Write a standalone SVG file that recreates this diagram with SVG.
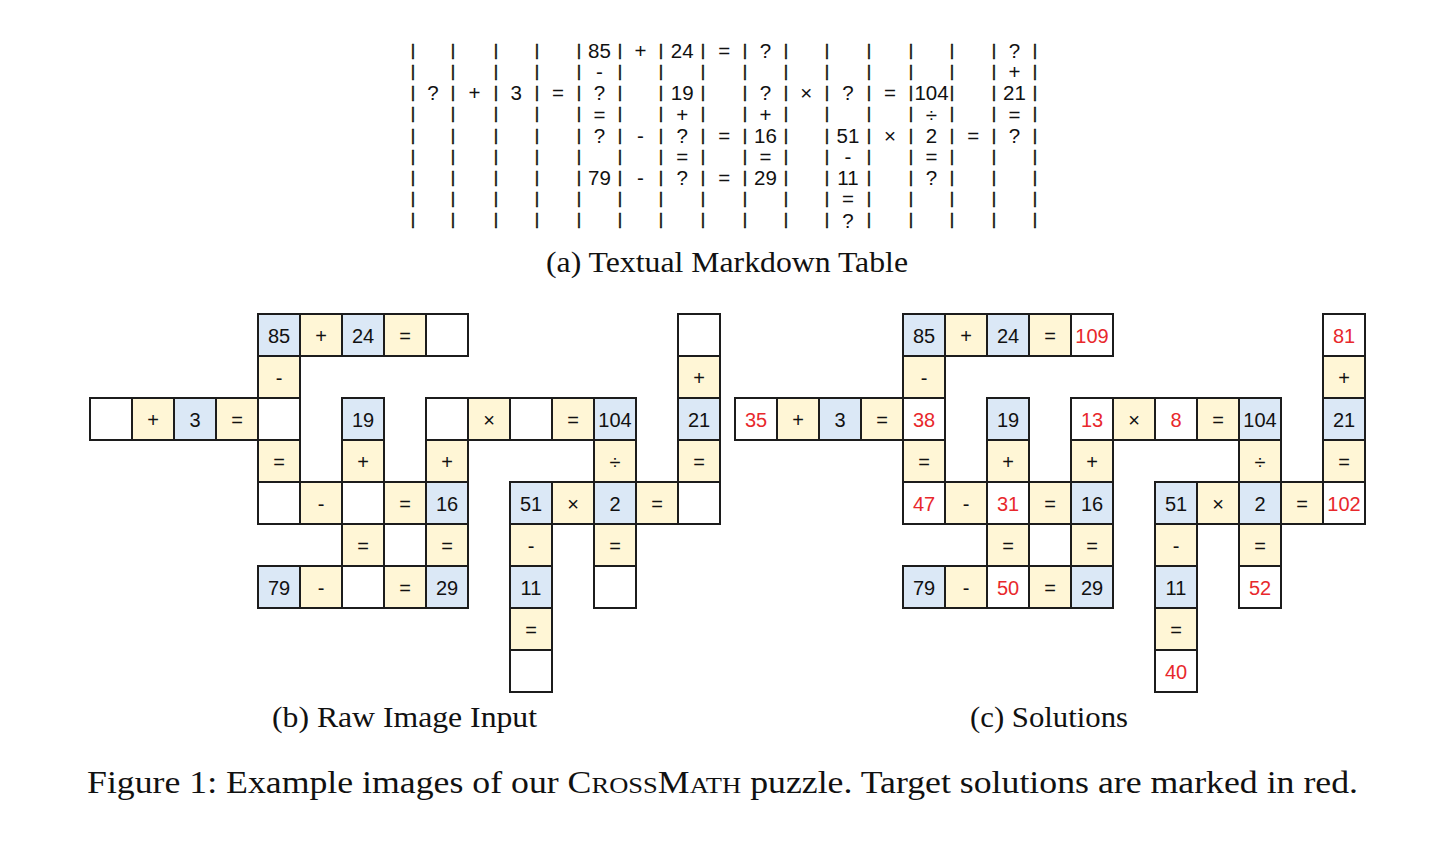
<svg xmlns="http://www.w3.org/2000/svg" width="1456" height="842" viewBox="0 0 1456 842">
<style>
.md{font-family:"Liberation Sans",Arial,sans-serif;font-size:20.5px;fill:#111;text-anchor:middle}
.pp{font-family:"Liberation Sans",Arial,sans-serif;font-size:17px;fill:#111;text-anchor:middle;stroke:#111;stroke-width:0.5}
.cap{font-family:"Liberation Serif","Times New Roman",serif;font-size:29.5px;fill:#111}
.fig{font-family:"Liberation Serif","Times New Roman",serif;font-size:31px;fill:#111}
.sc{font-size:23px}
rect{stroke:#1c1c1c;stroke-width:2}
.b{fill:#dbe8f6}
.y{fill:#fff6d6}
.w{fill:#ffffff}
.t{font-family:"Liberation Sans",Arial,sans-serif;font-size:20px;fill:#111;text-anchor:middle}
.r{fill:#e8282c}
</style>
<rect x="0" y="0" width="1456" height="842" fill="#ffffff" style="stroke:none"/>

<!-- (a) markdown table -->
<g id="markdown" opacity="0.995">
<g id="pipes" class="pp">
<text x="413 453 496 537 579 620 661 703 745 786 827 869 911 952 994 1035" y="55.7">||||||||||||||||</text>
<text x="413 453 496 537 579 620 661 703 745 786 827 869 911 952 994 1035" y="76.9">||||||||||||||||</text>
<text x="413 453 496 537 579 620 661 703 745 786 827 869 911 952 994 1035" y="98.1">||||||||||||||||</text>
<text x="413 453 496 537 579 620 661 703 745 786 827 869 911 952 994 1035" y="119.3">||||||||||||||||</text>
<text x="413 453 496 537 579 620 661 703 745 786 827 869 911 952 994 1035" y="140.5">||||||||||||||||</text>
<text x="413 453 496 537 579 620 661 703 745 786 827 869 911 952 994 1035" y="161.7">||||||||||||||||</text>
<text x="413 453 496 537 579 620 661 703 745 786 827 869 911 952 994 1035" y="182.9">||||||||||||||||</text>
<text x="413 453 496 537 579 620 661 703 745 786 827 869 911 952 994 1035" y="204.1">||||||||||||||||</text>
<text x="413 453 496 537 579 620 661 703 745 786 827 869 911 952 994 1035" y="225.3">||||||||||||||||</text>
</g>
<g id="cells-md" class="md">
<text y="58"><tspan x="599.5">85</tspan><tspan x="640.5">+</tspan><tspan x="682.2">24</tspan><tspan x="724.2">=</tspan><tspan x="765.4">?</tspan><tspan x="1014.5">?</tspan></text>
<text y="79.2"><tspan x="599.5">-</tspan><tspan x="1014.5">+</tspan></text>
<text y="100.4"><tspan x="433">?</tspan><tspan x="474.5">+</tspan><tspan x="516.2">3</tspan><tspan x="557.9">=</tspan><tspan x="599.5">?</tspan><tspan x="682.2">19</tspan><tspan x="765.4">?</tspan><tspan x="806.2">×</tspan><tspan x="848">?</tspan><tspan x="890">=</tspan><tspan x="931.5">104</tspan><tspan x="1014.5">21</tspan></text>
<text y="121.6"><tspan x="599.5">=</tspan><tspan x="682.2">+</tspan><tspan x="765.4">+</tspan><tspan x="931.5">÷</tspan><tspan x="1014.5">=</tspan></text>
<text y="142.8"><tspan x="599.5">?</tspan><tspan x="640.5">-</tspan><tspan x="682.2">?</tspan><tspan x="724.2">=</tspan><tspan x="765.4">16</tspan><tspan x="848">51</tspan><tspan x="890">×</tspan><tspan x="931.5">2</tspan><tspan x="973.2">=</tspan><tspan x="1014.5">?</tspan></text>
<text y="164"><tspan x="682.2">=</tspan><tspan x="765.4">=</tspan><tspan x="848">-</tspan><tspan x="931.5">=</tspan></text>
<text y="185.2"><tspan x="599.5">79</tspan><tspan x="640.5">-</tspan><tspan x="682.2">?</tspan><tspan x="724.2">=</tspan><tspan x="765.4">29</tspan><tspan x="848">11</tspan><tspan x="931.5">?</tspan></text>
<text y="206.4"><tspan x="848">=</tspan></text>
<text y="227.6"><tspan x="848">?</tspan></text>
</g>
</g>
<text id="cap-a" class="cap" x="727" y="272" text-anchor="middle" textLength="362" lengthAdjust="spacingAndGlyphs">(a) Textual Markdown Table</text>

<!-- (b) raw image grid -->
<g id="grid-b">
<g id="b-0-4" transform="translate(258,314)"><rect class="b" width="42" height="42"/><text class="t" x="21" y="28.5">85</text></g>
<g id="b-0-5" transform="translate(300,314)"><rect class="y" width="42" height="42"/><text class="t" x="21" y="28.5">+</text></g>
<g id="b-0-6" transform="translate(342,314)"><rect class="b" width="42" height="42"/><text class="t" x="21" y="28.5">24</text></g>
<g id="b-0-7" transform="translate(384,314)"><rect class="y" width="42" height="42"/><text class="t" x="21" y="28.5">=</text></g>
<g id="b-0-8" transform="translate(426,314)"><rect class="w" width="42" height="42"/></g>
<g id="b-0-14" transform="translate(678,314)"><rect class="w" width="42" height="42"/></g>
<g id="b-1-4" transform="translate(258,356)"><rect class="y" width="42" height="42"/><text class="t" x="21" y="28.5">-</text></g>
<g id="b-1-14" transform="translate(678,356)"><rect class="y" width="42" height="42"/><text class="t" x="21" y="28.5">+</text></g>
<g id="b-2-0" transform="translate(90,398)"><rect class="w" width="42" height="42"/></g>
<g id="b-2-1" transform="translate(132,398)"><rect class="y" width="42" height="42"/><text class="t" x="21" y="28.5">+</text></g>
<g id="b-2-2" transform="translate(174,398)"><rect class="b" width="42" height="42"/><text class="t" x="21" y="28.5">3</text></g>
<g id="b-2-3" transform="translate(216,398)"><rect class="y" width="42" height="42"/><text class="t" x="21" y="28.5">=</text></g>
<g id="b-2-4" transform="translate(258,398)"><rect class="w" width="42" height="42"/></g>
<g id="b-2-6" transform="translate(342,398)"><rect class="b" width="42" height="42"/><text class="t" x="21" y="28.5">19</text></g>
<g id="b-2-8" transform="translate(426,398)"><rect class="w" width="42" height="42"/></g>
<g id="b-2-9" transform="translate(468,398)"><rect class="y" width="42" height="42"/><text class="t" x="21" y="28.5">×</text></g>
<g id="b-2-10" transform="translate(510,398)"><rect class="w" width="42" height="42"/></g>
<g id="b-2-11" transform="translate(552,398)"><rect class="y" width="42" height="42"/><text class="t" x="21" y="28.5">=</text></g>
<g id="b-2-12" transform="translate(594,398)"><rect class="b" width="42" height="42"/><text class="t" x="21" y="28.5">104</text></g>
<g id="b-2-14" transform="translate(678,398)"><rect class="b" width="42" height="42"/><text class="t" x="21" y="28.5">21</text></g>
<g id="b-3-4" transform="translate(258,440)"><rect class="y" width="42" height="42"/><text class="t" x="21" y="28.5">=</text></g>
<g id="b-3-6" transform="translate(342,440)"><rect class="y" width="42" height="42"/><text class="t" x="21" y="28.5">+</text></g>
<g id="b-3-8" transform="translate(426,440)"><rect class="y" width="42" height="42"/><text class="t" x="21" y="28.5">+</text></g>
<g id="b-3-12" transform="translate(594,440)"><rect class="y" width="42" height="42"/><text class="t" x="21" y="28.5">÷</text></g>
<g id="b-3-14" transform="translate(678,440)"><rect class="y" width="42" height="42"/><text class="t" x="21" y="28.5">=</text></g>
<g id="b-4-4" transform="translate(258,482)"><rect class="w" width="42" height="42"/></g>
<g id="b-4-5" transform="translate(300,482)"><rect class="y" width="42" height="42"/><text class="t" x="21" y="28.5">-</text></g>
<g id="b-4-6" transform="translate(342,482)"><rect class="w" width="42" height="42"/></g>
<g id="b-4-7" transform="translate(384,482)"><rect class="y" width="42" height="42"/><text class="t" x="21" y="28.5">=</text></g>
<g id="b-4-8" transform="translate(426,482)"><rect class="b" width="42" height="42"/><text class="t" x="21" y="28.5">16</text></g>
<g id="b-4-10" transform="translate(510,482)"><rect class="b" width="42" height="42"/><text class="t" x="21" y="28.5">51</text></g>
<g id="b-4-11" transform="translate(552,482)"><rect class="y" width="42" height="42"/><text class="t" x="21" y="28.5">×</text></g>
<g id="b-4-12" transform="translate(594,482)"><rect class="b" width="42" height="42"/><text class="t" x="21" y="28.5">2</text></g>
<g id="b-4-13" transform="translate(636,482)"><rect class="y" width="42" height="42"/><text class="t" x="21" y="28.5">=</text></g>
<g id="b-4-14" transform="translate(678,482)"><rect class="w" width="42" height="42"/></g>
<g id="b-5-6" transform="translate(342,524)"><rect class="y" width="42" height="42"/><text class="t" x="21" y="28.5">=</text></g>
<g id="b-5-8" transform="translate(426,524)"><rect class="y" width="42" height="42"/><text class="t" x="21" y="28.5">=</text></g>
<g id="b-5-10" transform="translate(510,524)"><rect class="y" width="42" height="42"/><text class="t" x="21" y="28.5">-</text></g>
<g id="b-5-12" transform="translate(594,524)"><rect class="y" width="42" height="42"/><text class="t" x="21" y="28.5">=</text></g>
<g id="b-6-4" transform="translate(258,566)"><rect class="b" width="42" height="42"/><text class="t" x="21" y="28.5">79</text></g>
<g id="b-6-5" transform="translate(300,566)"><rect class="y" width="42" height="42"/><text class="t" x="21" y="28.5">-</text></g>
<g id="b-6-6" transform="translate(342,566)"><rect class="w" width="42" height="42"/></g>
<g id="b-6-7" transform="translate(384,566)"><rect class="y" width="42" height="42"/><text class="t" x="21" y="28.5">=</text></g>
<g id="b-6-8" transform="translate(426,566)"><rect class="b" width="42" height="42"/><text class="t" x="21" y="28.5">29</text></g>
<g id="b-6-10" transform="translate(510,566)"><rect class="b" width="42" height="42"/><text class="t" x="21" y="28.5">11</text></g>
<g id="b-6-12" transform="translate(594,566)"><rect class="w" width="42" height="42"/></g>
<g id="b-7-10" transform="translate(510,608)"><rect class="y" width="42" height="42"/><text class="t" x="21" y="28.5">=</text></g>
<g id="b-8-10" transform="translate(510,650)"><rect class="w" width="42" height="42"/></g>
</g>
<text id="cap-b" class="cap" x="404.5" y="727" text-anchor="middle" textLength="265" lengthAdjust="spacingAndGlyphs">(b) Raw Image Input</text>

<!-- (c) solutions grid -->
<g id="grid-c">
<g id="c-0-4" transform="translate(903,314)"><rect class="b" width="42" height="42"/><text class="t" x="21" y="28.5">85</text></g>
<g id="c-0-5" transform="translate(945,314)"><rect class="y" width="42" height="42"/><text class="t" x="21" y="28.5">+</text></g>
<g id="c-0-6" transform="translate(987,314)"><rect class="b" width="42" height="42"/><text class="t" x="21" y="28.5">24</text></g>
<g id="c-0-7" transform="translate(1029,314)"><rect class="y" width="42" height="42"/><text class="t" x="21" y="28.5">=</text></g>
<g id="c-0-8" transform="translate(1071,314)"><rect class="w" width="42" height="42"/><text class="t r" x="21" y="28.5">109</text></g>
<g id="c-0-14" transform="translate(1323,314)"><rect class="w" width="42" height="42"/><text class="t r" x="21" y="28.5">81</text></g>
<g id="c-1-4" transform="translate(903,356)"><rect class="y" width="42" height="42"/><text class="t" x="21" y="28.5">-</text></g>
<g id="c-1-14" transform="translate(1323,356)"><rect class="y" width="42" height="42"/><text class="t" x="21" y="28.5">+</text></g>
<g id="c-2-0" transform="translate(735,398)"><rect class="w" width="42" height="42"/><text class="t r" x="21" y="28.5">35</text></g>
<g id="c-2-1" transform="translate(777,398)"><rect class="y" width="42" height="42"/><text class="t" x="21" y="28.5">+</text></g>
<g id="c-2-2" transform="translate(819,398)"><rect class="b" width="42" height="42"/><text class="t" x="21" y="28.5">3</text></g>
<g id="c-2-3" transform="translate(861,398)"><rect class="y" width="42" height="42"/><text class="t" x="21" y="28.5">=</text></g>
<g id="c-2-4" transform="translate(903,398)"><rect class="w" width="42" height="42"/><text class="t r" x="21" y="28.5">38</text></g>
<g id="c-2-6" transform="translate(987,398)"><rect class="b" width="42" height="42"/><text class="t" x="21" y="28.5">19</text></g>
<g id="c-2-8" transform="translate(1071,398)"><rect class="w" width="42" height="42"/><text class="t r" x="21" y="28.5">13</text></g>
<g id="c-2-9" transform="translate(1113,398)"><rect class="y" width="42" height="42"/><text class="t" x="21" y="28.5">×</text></g>
<g id="c-2-10" transform="translate(1155,398)"><rect class="w" width="42" height="42"/><text class="t r" x="21" y="28.5">8</text></g>
<g id="c-2-11" transform="translate(1197,398)"><rect class="y" width="42" height="42"/><text class="t" x="21" y="28.5">=</text></g>
<g id="c-2-12" transform="translate(1239,398)"><rect class="b" width="42" height="42"/><text class="t" x="21" y="28.5">104</text></g>
<g id="c-2-14" transform="translate(1323,398)"><rect class="b" width="42" height="42"/><text class="t" x="21" y="28.5">21</text></g>
<g id="c-3-4" transform="translate(903,440)"><rect class="y" width="42" height="42"/><text class="t" x="21" y="28.5">=</text></g>
<g id="c-3-6" transform="translate(987,440)"><rect class="y" width="42" height="42"/><text class="t" x="21" y="28.5">+</text></g>
<g id="c-3-8" transform="translate(1071,440)"><rect class="y" width="42" height="42"/><text class="t" x="21" y="28.5">+</text></g>
<g id="c-3-12" transform="translate(1239,440)"><rect class="y" width="42" height="42"/><text class="t" x="21" y="28.5">÷</text></g>
<g id="c-3-14" transform="translate(1323,440)"><rect class="y" width="42" height="42"/><text class="t" x="21" y="28.5">=</text></g>
<g id="c-4-4" transform="translate(903,482)"><rect class="w" width="42" height="42"/><text class="t r" x="21" y="28.5">47</text></g>
<g id="c-4-5" transform="translate(945,482)"><rect class="y" width="42" height="42"/><text class="t" x="21" y="28.5">-</text></g>
<g id="c-4-6" transform="translate(987,482)"><rect class="w" width="42" height="42"/><text class="t r" x="21" y="28.5">31</text></g>
<g id="c-4-7" transform="translate(1029,482)"><rect class="y" width="42" height="42"/><text class="t" x="21" y="28.5">=</text></g>
<g id="c-4-8" transform="translate(1071,482)"><rect class="b" width="42" height="42"/><text class="t" x="21" y="28.5">16</text></g>
<g id="c-4-10" transform="translate(1155,482)"><rect class="b" width="42" height="42"/><text class="t" x="21" y="28.5">51</text></g>
<g id="c-4-11" transform="translate(1197,482)"><rect class="y" width="42" height="42"/><text class="t" x="21" y="28.5">×</text></g>
<g id="c-4-12" transform="translate(1239,482)"><rect class="b" width="42" height="42"/><text class="t" x="21" y="28.5">2</text></g>
<g id="c-4-13" transform="translate(1281,482)"><rect class="y" width="42" height="42"/><text class="t" x="21" y="28.5">=</text></g>
<g id="c-4-14" transform="translate(1323,482)"><rect class="w" width="42" height="42"/><text class="t r" x="21" y="28.5">102</text></g>
<g id="c-5-6" transform="translate(987,524)"><rect class="y" width="42" height="42"/><text class="t" x="21" y="28.5">=</text></g>
<g id="c-5-8" transform="translate(1071,524)"><rect class="y" width="42" height="42"/><text class="t" x="21" y="28.5">=</text></g>
<g id="c-5-10" transform="translate(1155,524)"><rect class="y" width="42" height="42"/><text class="t" x="21" y="28.5">-</text></g>
<g id="c-5-12" transform="translate(1239,524)"><rect class="y" width="42" height="42"/><text class="t" x="21" y="28.5">=</text></g>
<g id="c-6-4" transform="translate(903,566)"><rect class="b" width="42" height="42"/><text class="t" x="21" y="28.5">79</text></g>
<g id="c-6-5" transform="translate(945,566)"><rect class="y" width="42" height="42"/><text class="t" x="21" y="28.5">-</text></g>
<g id="c-6-6" transform="translate(987,566)"><rect class="w" width="42" height="42"/><text class="t r" x="21" y="28.5">50</text></g>
<g id="c-6-7" transform="translate(1029,566)"><rect class="y" width="42" height="42"/><text class="t" x="21" y="28.5">=</text></g>
<g id="c-6-8" transform="translate(1071,566)"><rect class="b" width="42" height="42"/><text class="t" x="21" y="28.5">29</text></g>
<g id="c-6-10" transform="translate(1155,566)"><rect class="b" width="42" height="42"/><text class="t" x="21" y="28.5">11</text></g>
<g id="c-6-12" transform="translate(1239,566)"><rect class="w" width="42" height="42"/><text class="t r" x="21" y="28.5">52</text></g>
<g id="c-7-10" transform="translate(1155,608)"><rect class="y" width="42" height="42"/><text class="t" x="21" y="28.5">=</text></g>
<g id="c-8-10" transform="translate(1155,650)"><rect class="w" width="42" height="42"/><text class="t r" x="21" y="28.5">40</text></g>
</g>
<text id="cap-c" class="cap" x="1049" y="727" text-anchor="middle" textLength="158" lengthAdjust="spacingAndGlyphs">(c) Solutions</text>

<g id="connectors"/>

<text id="figure-caption" class="fig" x="87" y="793" textLength="1271" lengthAdjust="spacingAndGlyphs">Figure 1: Example images of our C<tspan class="sc">ROSS</tspan>M<tspan class="sc">ATH</tspan> puzzle. Target solutions are marked in red.</text>
</svg>
